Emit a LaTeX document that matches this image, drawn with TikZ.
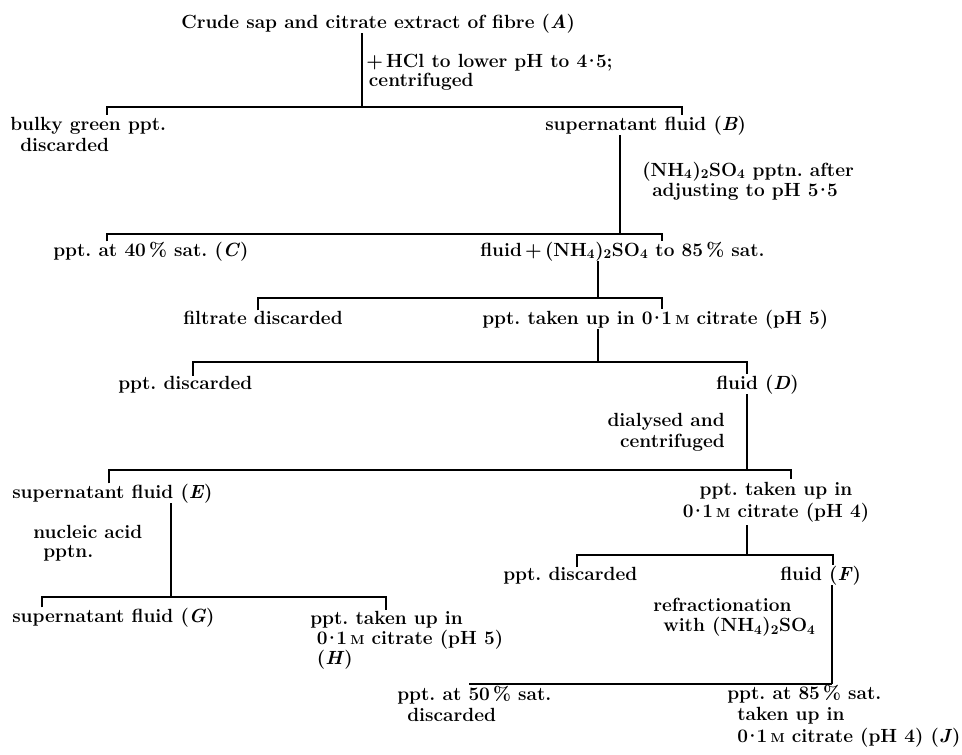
\documentclass[tikz,border=0pt]{standalone}
\usepackage{fontspec}
\newcommand\Mo{\,{\fontsize{9.7}{10}\selectfont M}}
\newcommand\pd{\kern-3pt·\kern-3pt}
\newcommand\amsul{(NH\textsubscript{4})\textsubscript{2}SO\textsubscript{4}}
\newcommand\ml[2]{\renewcommand\arraystretch{#1}\begin{tabular}[t]{@{}l@{}}#2\end{tabular}}
\newcommand\mr[2]{\renewcommand\arraystretch{#1}\begin{tabular}[t]{@{}r@{}}#2\end{tabular}}
\newcommand\mc[2]{\renewcommand\arraystretch{#1}\begin{tabular}[t]{@{}c@{}}#2\end{tabular}}
\begin{document}
\begin{tikzpicture}[x=0.75pt,y=-0.75pt,
  txt/.style={inner sep=0pt, anchor=base west, font=\fontsize{14.3}{17}\selectfont\bfseries\frenchspacing},
  ln/.style={line width=1.4pt}]
\useasboundingbox[fill=white] (0,0) rectangle (962,754);
% texts
\node[txt] (A) at (181,28) {Crude sap and citrate extract of fibre (\textit{A})};
\node[txt] (lHCl) at (366,67) {\ml{0.88}{+\,HCl to lower pH to 4\pd5;\\\hspace*{2pt}centrifuged}};
\node[txt] (bulky) at (10,130) {\ml{0.93}{bulky green ppt.\\\hspace*{7.5pt}discarded}};
\node[txt] (B) at (545,130) {supernatant fluid (\textit{B})};
\node[txt] (lNH) at (642,176) {\ml{0.92}{\amsul{} pptn. after\\\hspace*{7.5pt}adjusting to pH 5\pd5}};
\node[txt] (C) at (53,256) {ppt. at 40\,\% sat. (\textit{C})};
\node[txt] (fl) at (480,256) {fluid\,+\,\amsul{} to 85\,\% sat.};
\node[txt] (filt) at (183,324) {filtrate discarded};
\node[txt] (p5) at (482,324) {ppt. taken up in 0\pd1\Mo{} citrate (pH 5)};
\node[txt] (pd1) at (118,389) {ppt. discarded};
\node[txt] (D) at (716,389) {fluid (\textit{D})};
\node[txt, anchor=base east] (ldial) at (725,426) {\mr{0.93}{dialysed and\\centrifuged}};
\node[txt] (E) at (12,498) {supernatant fluid (\textit{E})};
\node[txt, anchor=base] (p4) at (776,495) {\mc{1.01}{ppt. taken up in\\0\pd1\Mo{} citrate (pH 4)}};
\node[txt] (lnuc) at (33,538) {\ml{0.88}{nucleic acid\\\hspace*{7.5pt}pptn.}};
\node[txt] (G) at (12,622) {supernatant fluid (\textit{G})};
\node[txt] (H) at (310,624) {\ml{0.88}{ppt. taken up in\\\hspace*{5pt}0\pd1\Mo{} citrate (pH 5)\\\hspace*{5pt}(\textit{H})}};
\node[txt] (pd2) at (503,580) {ppt. discarded};
\node[txt] (F) at (780,580) {fluid (\textit{F})};
\node[txt] (lref) at (653,611) {\ml{0.9}{refractionation\\\hspace*{7.5pt}with \amsul}};
\node[txt] (p50) at (397,700) {\ml{0.93}{ppt. at 50\,\% sat.\\\hspace*{7.5pt}discarded}};
\node[txt] (J) at (727,699) {\ml{0.96}{ppt. at 85\,\% sat.\\\hspace*{7.5pt}taken up in\\\hspace*{7.5pt}0\pd1\Mo{} citrate (pH 4) (\textit{J})}};
% connectors
\coordinate (m1) at (362,107); \coordinate (l1) at (107,107); \coordinate (r1) at (682,107);
\draw[ln] (A.south -| m1) -- (m1);
\draw[ln] (l1 |- bulky.north) -- (l1) -- (r1) -- (r1 |- B.north);
\coordinate (m2) at (620,234); \coordinate (l2) at (107,234); \coordinate (r2) at (662,234);
\draw[ln] (B.south -| m2) -- (m2);
\draw[ln] (l2 |- C.north) -- (l2) -- (r2) -- (r2 |- fl.north);
\coordinate (m3) at (598,298); \coordinate (l3) at (258,298); \coordinate (r3) at (662,298);
\draw[ln] (fl.south -| m3) -- (m3);
\draw[ln] (l3 |- filt.north) -- (l3) -- (r3) -- (r3 |- p5.north);
\coordinate (m4) at (598,362); \coordinate (l4) at (193,362); \coordinate (r4) at (747,362);
\draw[ln] (p5.south -| m4) -- (m4);
\draw[ln] (l4 |- pd1.north) -- (l4) -- (r4) -- (r4 |- D.north);
\coordinate (m5) at (747,470); \coordinate (l5) at (109,470); \coordinate (r5) at (791,470);
\draw[ln] (D.south -| m5) -- (m5);
\draw[ln] (l5 |- E.north) -- (l5) -- (r5) -- (r5 |- p4.north);
\coordinate (m6) at (171,597); \coordinate (l6) at (42,597); \coordinate (r6) at (386,597);
\draw[ln] (E.south -| m6) -- (m6);
\draw[ln] (l6 |- G.north) -- (l6) -- (r6) -- (r6 |- H.north);
\coordinate (m7) at (747,555); \coordinate (l7) at (577,555); \coordinate (r7) at (833,555);
\draw[ln] (p4.south -| m7) -- (m7);
\draw[ln] (l7 |- pd2.north) -- (l7) -- (r7) -- (r7 |- F.north);
\coordinate (l8) at (470,684); \coordinate (r8) at (832,684);
\draw[ln] (F.south -| r8) -- (r8 |- J.north);
\draw[ln] (l8 |- p50.north) -- (l8) -- (r8);
\end{tikzpicture}
\end{document}
